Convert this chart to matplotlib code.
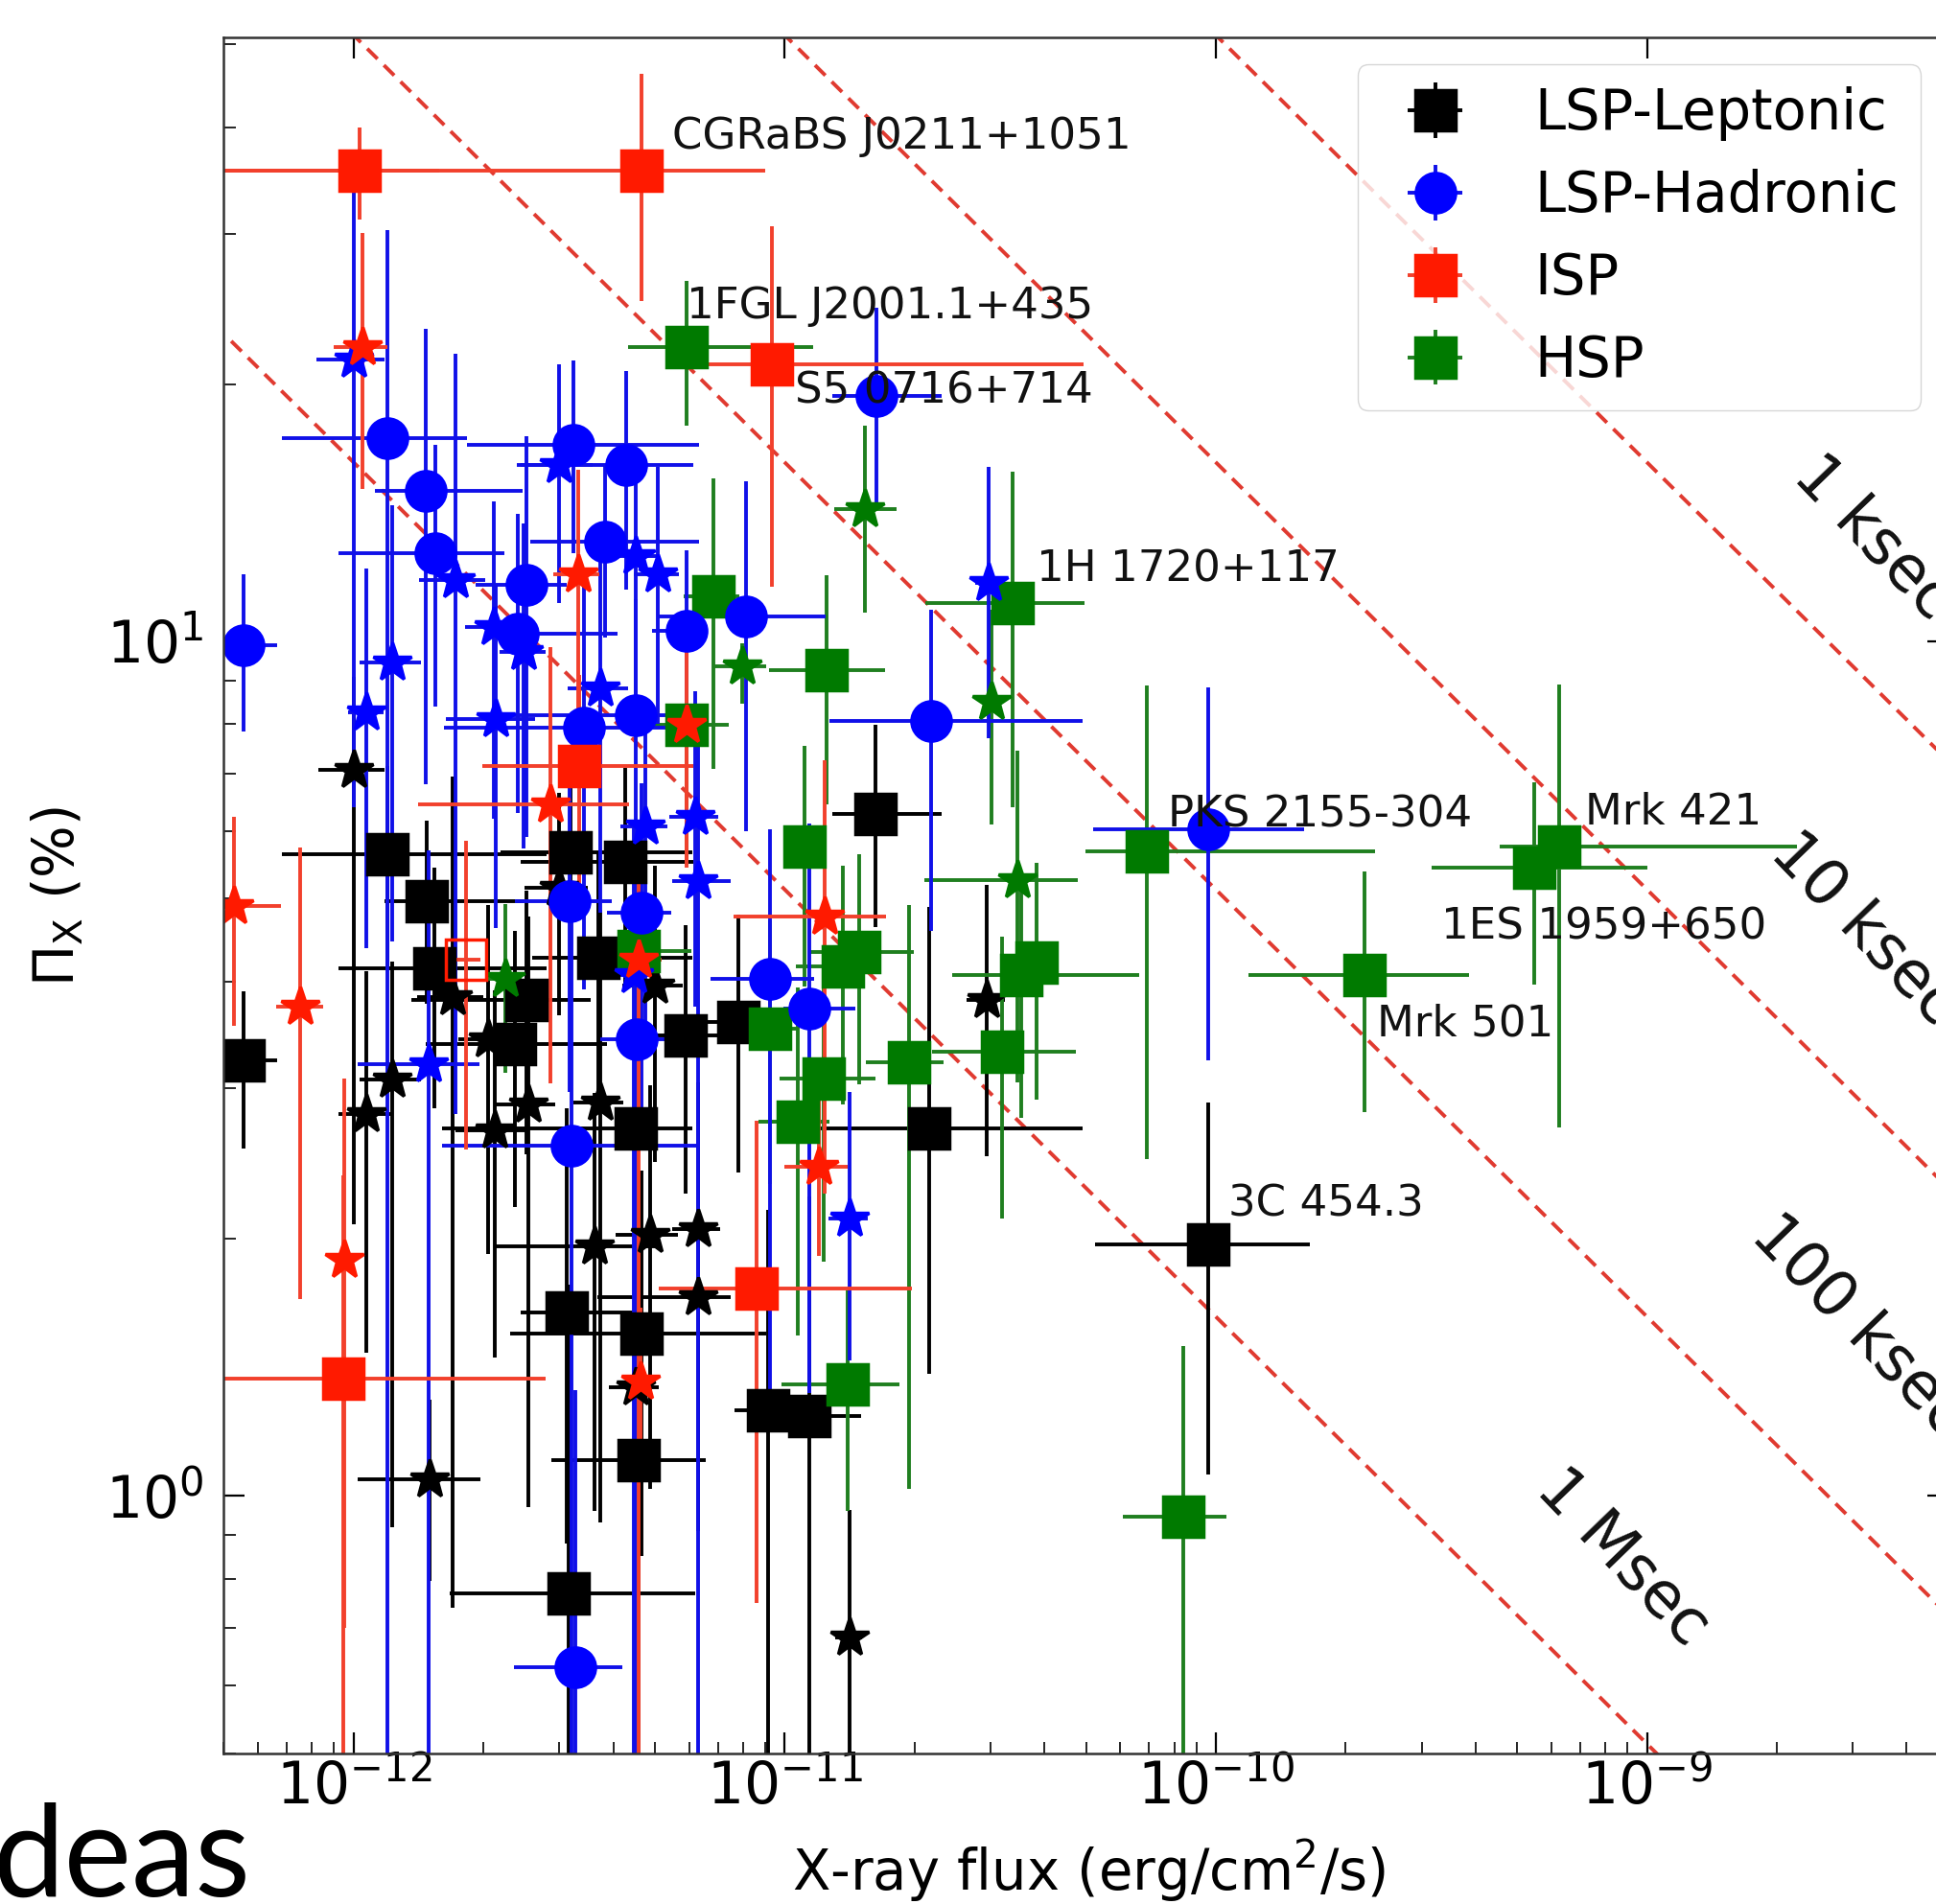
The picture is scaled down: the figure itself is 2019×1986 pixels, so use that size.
import numpy as np
import matplotlib
matplotlib.use("Agg")
import matplotlib.pyplot as plt
from matplotlib.ticker import NullFormatter

plt.rcParams["font.family"] = ["DejaVu Sans"]
plt.rcParams["mathtext.fontset"] = "dejavusans"

UNIT = 1e-12  # all flux arrays below are in units of 1e-12 erg/cm^2/s

# ---------------- LSP, leptonic ----------------
lep_sq_flux = [0.556, 1.20, 1.48, 1.54, 2.52, 2.37, 3.19, 4.27, 3.69, 4.50, 5.90,
               7.80, 16.2, 21.6, 95.9, 3.12, 4.65, 4.57, 3.15, 9.13, 11.4]
lep_sq_flux_lo = [0.12, 0.52, 0.3, 0.62, 1.16, 0.9, 1.0, 1.83, 1.1, 2.9, 1.0,
                  1.2, 3.3, 11.4, 43.6, 0.68, 2.34, 1.7, 1.48, 1.5, 2.0]
lep_sq_flux_hi = [0.11, 1.6, 1.0, 1.26, 1.02, 1.5, 2.9, 1.86, 2.4, 1.6, 3.1,
                  1.2, 6.9, 27.4, 69.0, 1.5, 4.4, 2.0, 3.05, 1.5, 3.6]
lep_sq_pol = [3.23, 5.64, 4.97, 4.14, 3.81, 3.38, 5.66, 5.52, 4.26, 2.69, 3.46,
              3.59, 6.28, 2.69, 1.97, 1.64, 1.55, 1.10, 0.768, 1.26, 1.24]
lep_sq_pol_lo = [0.68, 1.5, 1.2, 1.3, 1.3, 1.2, 1.6, 1.6, 1.4, 1.4, 1.2,
                 1.2, 1.65, 1.3, 0.91, 0.76, 0.7, 0.7, 0.8, 0.9, 1.0]
lep_sq_pol_hi = [0.66, 1.5, 1.2, 1.3, 1.3, 1.2, 1.6, 1.6, 1.4, 1.4, 1.2,
                 1.2, 1.7, 2.2, 0.92, 1.2, 0.85, 0.55, 1.0, 0.9, 1.0]

lep_st_flux = [1.00, 1.23, 1.07, 1.50, 1.70, 2.05, 2.99, 4.99, 2.54, 2.12, 3.73,
               3.61, 4.86, 6.28, 6.28, 4.50, 14.1, 29.4]
lep_st_flux_lo = [0.17, 0.2, 0.15, 0.48, 0.3, 0.3, 0.5, 0.8, 0.4, 0.4, 0.5,
                  1.5, 0.8, 0.8, 2.6, 0.6, 1.0, 3.0]
lep_st_flux_hi = [0.18, 0.2, 0.15, 0.47, 0.3, 0.3, 0.5, 0.8, 0.4, 0.4, 0.5,
                  1.5, 0.8, 0.8, 1.2, 0.6, 1.0, 3.0]
lep_st_pol = [7.08, 3.07, 2.80, 1.045, 3.84, 3.42, 5.15, 3.96, 2.87, 2.68, 2.89,
              1.96, 2.02, 2.05, 1.71, 1.34, 0.682, 3.81]
lep_st_pol_lo = [5.0, 2.15, 1.33, 0.25, 3.1, 1.5, 1.5, 1.5, 1.9, 1.23, 1.96,
                 1.0, 1.0, 1.0, 0.8, 0.7, 0.3, 1.31]
lep_st_pol_hi = [2.0, 1.15, 1.31, 0.25, 3.1, 1.5, 1.5, 1.5, 1.9, 1.23, 1.96,
                 1.0, 1.0, 1.0, 0.8, 0.7, 0.28, 1.38]

# ---------------- LSP, hadronic ----------------
had_sq_flux = [0.556, 1.20, 1.47, 1.55, 2.52, 3.23, 4.28, 3.83, 2.40, 4.50, 3.42,
               5.93, 8.11, 16.3, 21.8, 95.9, 3.17, 4.66, 4.53, 9.22, 11.4, 3.20, 3.26]
had_sq_flux_lo = [0.1, 0.52, 0.35, 0.63, 0.6, 1.4, 1.84, 1.26, 0.31, 2.5, 1.8,
                  1.0, 3.0, 3.4, 9.1, 44.0, 0.8, 0.8, 0.8, 2.5, 1.5, 1.6, 0.91]
had_sq_flux_hi = [0.11, 0.63, 1.0, 0.69, 0.6, 3.1, 1.85, 2.5, 1.7, 1.85, 2.9,
                  0.6, 4.3, 6.8, 27.3, 64.0, 0.8, 0.8, 0.8, 2.5, 3.2, 3.15, 0.94]
had_sq_pol = [9.9, 17.3, 15.0, 12.7, 11.65, 17.0, 16.1, 13.1, 10.2, 8.2, 7.92,
              10.3, 10.7, 19.4, 8.08, 6.03, 4.97, 4.82, 3.42, 4.03, 3.72, 2.57, 0.63]
had_sq_pol_lo = [2.05, 17.0, 8.2, 4.3, 5.75, 4.3, 4.6, 3.0, 3.9, 3.0, 4.0,
                 2.5, 4.7, 5.0, 3.5, 2.8, 2.0, 2.0, 3.2, 2.7, 2.4, 2.5, 0.7]
had_sq_pol_hi = [2.1, 13.0, 8.2, 4.3, 5.75, 4.3, 4.6, 3.0, 3.9, 3.0, 4.0,
                 2.5, 4.7, 5.2, 2.8, 2.8, 2.0, 2.0, 2.0, 2.0, 2.4, 2.5, 0.7]

had_st_flux = [1.00, 1.07, 1.23, 1.49, 1.72, 2.11, 2.48, 2.99, 4.50, 5.07, 3.73,
               2.14, 4.75, 6.20, 6.28, 4.47, 14.1, 29.7]
had_st_flux_lo = [0.18, 0.1, 0.2, 0.47, 0.3, 0.3, 0.3, 0.6, 0.6, 0.6, 0.6,
                  0.5, 0.6, 0.8, 0.8, 0.6, 1.5, 2.0]
had_st_flux_hi = [0.18, 0.1, 0.2, 0.47, 0.3, 0.3, 0.3, 0.6, 0.6, 0.6, 0.6,
                  0.5, 0.6, 0.8, 1.2, 0.6, 1.5, 2.0]
had_st_pol = [21.4, 8.27, 9.45, 3.20, 11.8, 10.4, 9.73, 16.1, 12.6, 12.0, 8.81,
              8.12, 6.07, 6.24, 5.24, 4.07, 2.11, 11.7]
had_st_pol_lo = [15.0, 3.9, 5.0, 2.9, 9.0, 4.2, 4.0, 5.0, 4.0, 4.0, 4.0,
                 3.5, 2.5, 2.5, 5.0, 3.8, 0.67, 4.0]
had_st_pol_hi = [12.3, 3.9, 5.0, 2.5, 9.9, 4.2, 4.0, 5.0, 4.0, 4.0, 4.0,
                 3.5, 2.5, 2.5, 3.0, 2.0, 0.86, 4.3]

# ---------------- ISP ----------------
isp_sq_flux = [1.03, 4.65, 9.34, 3.33, 8.6, 0.944]
isp_sq_flux_lo = [0.55, 4.35, 4.0, 1.34, 3.5, 0.9]
isp_sq_flux_hi = [0.55, 4.35, 40.0, 2.8, 11.1, 1.85]
isp_sq_pol = [35.6, 35.6, 21.1, 7.14, 1.75, 1.37]
isp_sq_pol_lo = [4.4, 10.6, 9.5, 2.0, 1.0, 1.7]
isp_sq_pol_hi = [4.4, 10.6, 9.5, 2.0, 1.0, 1.0]

isp_open_flux = [1.82]
isp_open_flux_err = [0.15]
isp_open_pol = [4.24]
isp_open_pol_lo = [1.7]
isp_open_pol_hi = [1.6]

isp_st_flux = [1.05, 3.31, 2.86, 0.528, 0.75, 0.95, 4.57, 12.4, 12.0, 4.63, 5.93]
isp_st_flux_lo = [0.15, 0.4, 1.45, 0.03, 0.09, 0.05, 0.6, 4.8, 2.0, 0.3, 0.5]
isp_st_flux_hi = [0.15, 0.4, 1.5, 0.15, 0.1, 0.05, 0.6, 4.8, 2.0, 0.3, 0.5]
isp_st_pol = [22.1, 12.0, 6.44, 4.90, 3.74, 1.89, 4.24, 4.76, 2.43, 1.36, 7.98]
isp_st_pol_lo = [7.0, 3.9, 3.4, 1.35, 2.04, 1.19, 4.0, 2.5, 0.52, 0.25, 2.55]
isp_st_pol_hi = [8.0, 3.9, 3.4, 1.33, 2.0, 1.19, 1.5, 2.5, 0.52, 0.3, 2.5]

# ---------------- HSP ----------------
hsp_sq_flux = [5.93, 6.84, 12.5, 33.8, 5.93, 11.1, 13.6, 14.9, 9.22, 12.3, 10.7,
               19.4, 35.4, 38.4, 31.9, 69.0, 221, 547, 626, 83.9, 14.0, 4.58]
hsp_sq_flux_lo = [1.6, 1.0, 3.3, 12.6, 1.5, 1.0, 3.0, 3.5, 1.5, 2.6, 2.0,
                  4.0, 11.0, 4.0, 9.9, 19.3, 102, 230, 170, 23, 4.2, 1.0]
hsp_sq_flux_hi = [5.7, 1.0, 4.6, 15.7, 1.5, 1.0, 2.0, 5.0, 1.5, 3.9, 2.0,
                  4.0, 31.0, 4.0, 15.5, 165, 166, 453, 1604, 22, 4.4, 1.5]
hsp_sq_pol = [22.1, 11.3, 9.25, 11.1, 7.98, 5.75, 4.17, 4.33, 3.52, 3.08, 2.74,
              3.22, 4.07, 4.21, 3.31, 5.68, 4.07, 5.43, 5.76, 0.946, 1.35, 4.34]
hsp_sq_pol_lo = [4.2, 4.2, 2.8, 4.7, 2.5, 1.8, 1.3, 1.3, 1.2, 1.2, 1.2,
                 2.2, 1.3, 1.3, 1.2, 3.2, 1.26, 1.46, 3.06, 0.55, 0.39, 1.0]
hsp_sq_pol_hi = [4.3, 4.2, 2.7, 4.7, 2.5, 1.8, 1.3, 1.3, 1.2, 1.2, 1.2,
                 1.7, 1.3, 1.3, 1.2, 3.2, 1.31, 1.41, 3.15, 0.55, 0.39, 1.0]

hsp_st_flux = [15.3, 7.97, 30.2, 34.6, 2.25]
hsp_st_flux_lo = [2.3, 1.1, 1.5, 13.5, 0.2]
hsp_st_flux_hi = [2.9, 1.1, 1.5, 13.2, 0.2]
hsp_st_pol = [14.3, 9.35, 8.5, 5.25, 4.03]
hsp_st_pol_lo = [3.5, 0.9, 2.4, 2.2, 0.9]
hsp_st_pol_hi = [3.6, 0.6, 2.4, 2.2, 0.9]

# named sources: (label, class, index in the square arrays, text offset in pt)
named_sources = [
    ("CGRaBS J0211+1051", "isp", 1, (23, 25)),
    ("1FGL J2001.1+435", "hsp", 0, (0, 31)),
    ("S5 0716+714", "isp", 2, (17, -20)),
    ("1H 1720+117", "hsp", 3, (18, 25)),
    ("PKS 2155-304", "hsp", 15, (16, 27)),
    ("Mrk 421", "hsp", 18, (19, 25)),
    ("1ES 1959+650", "hsp", 17, (-69.5, -44)),
    ("Mrk 501", "hsp", 16, (9.6, -36.5)),
    ("3C 454.3", "lep", 14, (15, 30)),
]

# exposure-time curves: MDP scales as 1/sqrt(flux * T)
exposure_s = [1e3, 1e4, 1e5, 1e6]
exposure_text = ["1 ksec", "10 ksec", "100 ksec", "1 Msec"]
exposure_text_at = [(3.34e-9, 13.2), (3.19e-9, 4.61), (3.09e-9, 1.58), (8.76e-10, 0.847)]
MDP_NORM = 0.0162

C_LEP, C_HAD, C_ISP, C_HSP = "#000000", "#0000ff", "#ff1a00", "#007a00"
MS_SQ, MS_ST, MEW, ELW = 29.6, 30.0, 2.5, 2.8

fig = plt.figure(figsize=(20.19, 19.86), dpi=100)
ax = fig.add_axes([0.11565, 0.0793, 0.89079, 0.90131])
ax.set_xscale("log")
ax.set_yscale("log")

fgrid = np.logspace(np.log10(5.2e-13), -8, 400)
for T in exposure_s:
    ax.plot(fgrid, MDP_NORM / np.sqrt(fgrid * T), color="#e03a30", lw=2.8,
            ls=(0, (3.9, 2.4)))


def draw(flux, flo, fhi, pol, plo, phi, color, marker, ms, ecolor=None, **kw):
    f = np.asarray(flux) * UNIT
    return ax.errorbar(f, pol,
                       xerr=[np.asarray(flo) * UNIT, np.asarray(fhi) * UNIT],
                       yerr=[plo, phi], fmt=marker, color=color, ms=ms,
                       ecolor=ecolor or color,
                       mew=MEW, elinewidth=ELW, capsize=0, **kw)


c_lep = draw(lep_sq_flux, lep_sq_flux_lo, lep_sq_flux_hi, lep_sq_pol,
             lep_sq_pol_lo, lep_sq_pol_hi, C_LEP, "s", MS_SQ)
draw(lep_st_flux, lep_st_flux_lo, lep_st_flux_hi, lep_st_pol,
     lep_st_pol_lo, lep_st_pol_hi, C_LEP, "*", MS_ST)
c_hsp = draw(hsp_sq_flux, hsp_sq_flux_lo, hsp_sq_flux_hi, hsp_sq_pol,
             hsp_sq_pol_lo, hsp_sq_pol_hi, C_HSP, "s", MS_SQ, ecolor="#1f7f1f")
draw(hsp_st_flux, hsp_st_flux_lo, hsp_st_flux_hi, hsp_st_pol,
     hsp_st_pol_lo, hsp_st_pol_hi, C_HSP, "*", MS_ST, ecolor="#1f7f1f")
c_had = draw(had_sq_flux, had_sq_flux_lo, had_sq_flux_hi, had_sq_pol,
             had_sq_pol_lo, had_sq_pol_hi, C_HAD, "o", MS_SQ, ecolor="#1010e8")
draw(had_st_flux, had_st_flux_lo, had_st_flux_hi, had_st_pol,
     had_st_pol_lo, had_st_pol_hi, C_HAD, "*", MS_ST, ecolor="#1010e8")
c_isp = draw(isp_sq_flux, isp_sq_flux_lo, isp_sq_flux_hi, isp_sq_pol,
             isp_sq_pol_lo, isp_sq_pol_hi, C_ISP, "s", MS_SQ, ecolor="#f2402c")
draw(isp_open_flux, isp_open_flux_err, isp_open_flux_err, isp_open_pol,
     isp_open_pol_lo, isp_open_pol_hi, C_ISP, "s", MS_SQ, ecolor="#f2402c",
     mfc="none")
draw(isp_st_flux, isp_st_flux_lo, isp_st_flux_hi, isp_st_pol,
     isp_st_pol_lo, isp_st_pol_hi, C_ISP, "*", MS_ST, ecolor="#f2402c")

square_sets = {"lep": (lep_sq_flux, lep_sq_pol), "isp": (isp_sq_flux, isp_sq_pol),
               "hsp": (hsp_sq_flux, hsp_sq_pol)}
for name, cls, idx, off in named_sources:
    fl, po = square_sets[cls]
    ax.annotate(name, (fl[idx] * UNIT, po[idx]), xytext=off,
                textcoords="offset points", ha="left", va="center",
                fontsize=32.5, color="#111111")

for txt, (xt, yt) in zip(exposure_text, exposure_text_at):
    ax.text(xt, yt, txt, rotation=-46, rotation_mode="anchor", ha="center",
            va="center", fontsize=47, color="#111111")

ax.set_xlim(5e-13, 5e-9)
ax.set_ylim(0.5, 51)
ax.xaxis.set_minor_formatter(NullFormatter())
ax.yaxis.set_minor_formatter(NullFormatter())
ax.tick_params(which="major", direction="in", length=15.5, width=1.6,
               labelsize=43, top=True, right=True)
ax.tick_params(which="minor", direction="in", length=9, width=1.2,
               top=False, right=True)
ax.tick_params(axis="x", which="major", pad=5)
ax.tick_params(axis="y", which="major", pad=15)
for sp in ax.spines.values():
    sp.set_linewidth(1.8)
    sp.set_color("#333333")

ax.legend([c_lep, c_had, c_isp, c_hsp],
          ["LSP-Leptonic", "LSP-Hadronic", "ISP", "HSP"],
          loc="upper right", fontsize=41.5)

fig.text(60 / 2019, 1 - 935 / 1986, r"$\Pi_{\rm X}$ (%)", rotation=90,
         ha="center", va="center", fontsize=41.5)
fig.text(1136 / 2019, 1 - 1951 / 1986, "X-ray flux (erg/cm$^2$/s)",
         ha="center", va="center", fontsize=41.5)
fig.text(-0.004, 0.004, "deas", family="Lato", fontsize=96,
         ha="left", va="baseline")

fig.savefig("out.png", dpi=100, facecolor="white")
